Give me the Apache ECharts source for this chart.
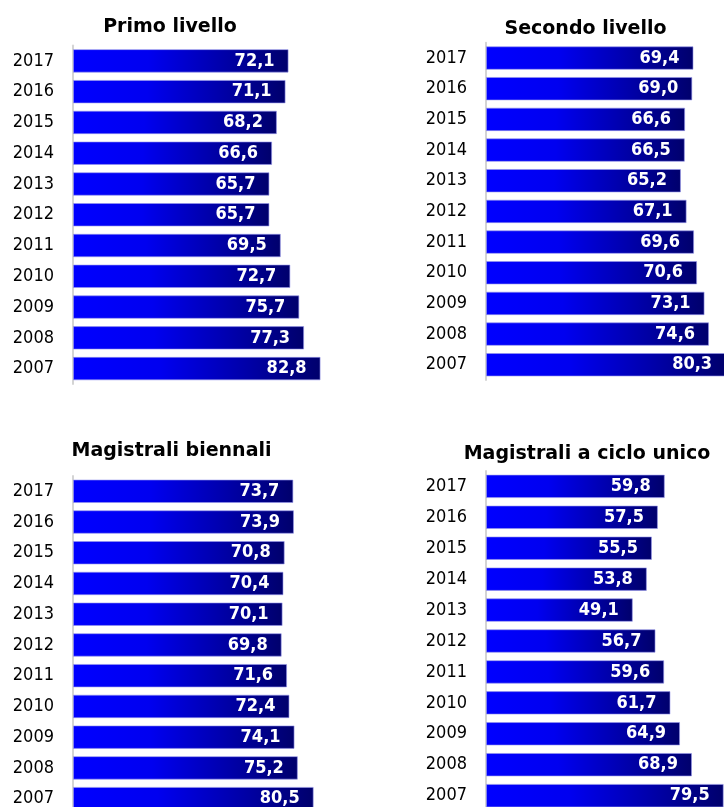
<!DOCTYPE html>
<html>
<head>
<meta charset="utf-8">
<script src="https://cdn.jsdelivr.net/npm/echarts@6/dist/echarts.min.js"></script>
<style>
html,body{margin:0;padding:0;background:#fff;}
#chart{width:724px;height:807px;}
</style>
</head>
<body>
<div id="chart"></div>
<script>
// Data
var years = ['2017','2016','2015','2014','2013','2012','2011','2010','2009','2008','2007'];
var titles = ['Primo livello','Secondo livello','Magistrali biennali','Magistrali a ciclo unico'];
var primoLivello = [72.1, 71.1, 68.2, 66.6, 65.7, 65.7, 69.5, 72.7, 75.7, 77.3, 82.8];
var secondoLivello = [69.4, 69.0, 66.6, 66.5, 65.2, 67.1, 69.6, 70.6, 73.1, 74.6, 80.3];
var magistraliBiennali = [73.7, 73.9, 70.8, 70.4, 70.1, 69.8, 71.6, 72.4, 74.1, 75.2, 80.5];
var magistraliCicloUnico = [59.8, 57.5, 55.5, 53.8, 49.1, 56.7, 59.6, 61.7, 64.9, 68.9, 79.5];
var seriesData = [primoLivello, secondoLivello, magistraliBiennali, magistraliCicloUnico];

var grids = [
  {left: 73, top: 45.5, width: 299, height: 338.5},
  {left: 486, top: 42.7, width: 299, height: 337.4},
  {left: 73, top: 475.9, width: 299, height: 338.1},
  {left: 486, top: 470.9, width: 299, height: 340.2}
];
var titlePos = [
  {left: 165, top: 13},
  {left: 580.5, top: 15},
  {left: 166.5, top: 437},
  {left: 582, top: 440}
];

var barGradient = new echarts.graphic.LinearGradient(0, 0, 1, 0, [
  {offset: 0, color: '#0000ff'},
  {offset: 0.35, color: '#0000f0'},
  {offset: 1, color: '#00006c'}
]);

var option = {
  animation: false,
  backgroundColor: '#ffffff',
  title: titles.map(function (t, i) {
    return {
      text: t, left: titlePos[i].left, top: titlePos[i].top, textAlign: 'center',
      textStyle: {fontFamily: 'DejaVu Sans', fontWeight: 'bold', fontSize: 19, color: '#000'}
    };
  }),
  grid: grids.map(function (g) {
    return Object.assign({outerBoundsMode: 'none', containLabel: false}, g);
  }),
  xAxis: grids.map(function (g, i) {
    return {type: 'value', gridIndex: i, min: 0, max: 100, show: false};
  }),
  yAxis: grids.map(function (g, i) {
    return {
      type: 'category', gridIndex: i, data: years, inverse: true,
      axisLine: {show: true, lineStyle: {color: '#d4d4d4', width: 2}},
      axisTick: {show: false},
      axisLabel: {margin: 19, fontFamily: 'DejaVu Sans Condensed', fontSize: 18, color: '#000'}
    };
  }),
  series: seriesData.map(function (d, i) {
    return {
      type: 'bar', xAxisIndex: i, yAxisIndex: i, data: d,
      barWidth: 23.5, clip: false,
      itemStyle: {color: barGradient, borderColor: 'rgba(150,150,235,0.6)', borderWidth: 1},
      label: {
        show: true, position: 'insideRight', distance: 14,
        fontFamily: 'DejaVu Sans Condensed', fontWeight: 'bold', fontSize: 18, color: '#fff',
        formatter: function (p) { return p.value.toFixed(1).replace('.', ','); }
      }
    };
  })
};

var chart = echarts.init(document.getElementById('chart'), null, {renderer: 'canvas'});
chart.setOption(option);
</script>
</body>
</html>
